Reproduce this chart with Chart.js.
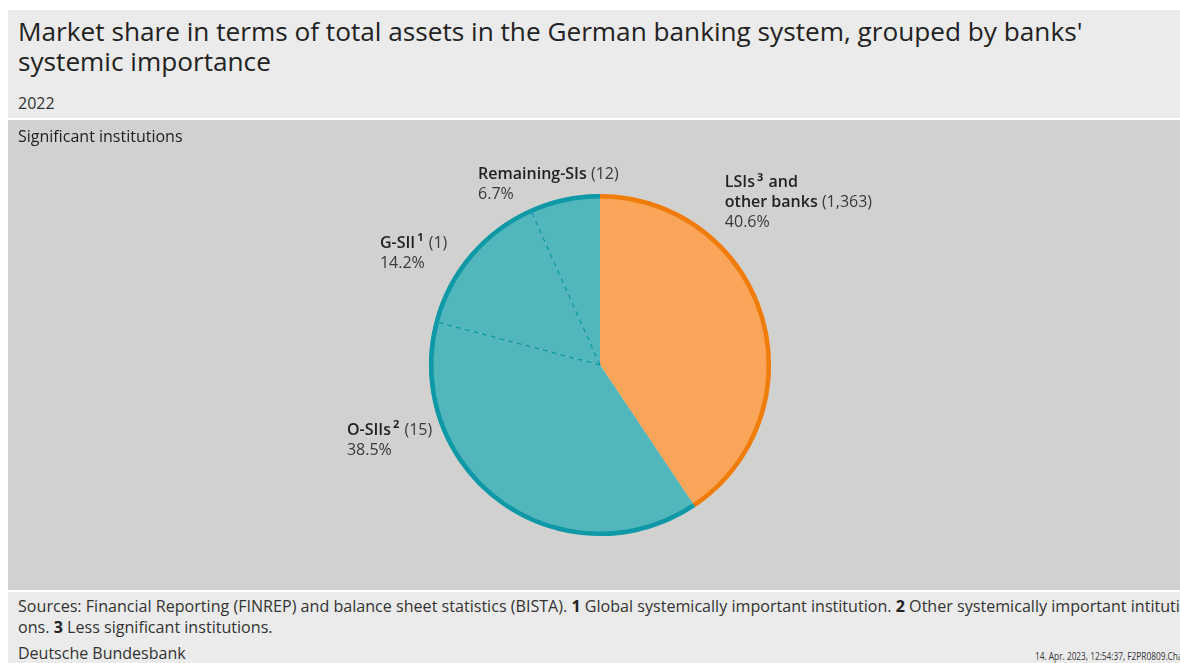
<!DOCTYPE html>
<html>
<head>
<meta charset="utf-8">
<script src="https://cdn.jsdelivr.net/npm/chart.js@4.4.0/dist/chart.umd.min.js"></script>
<style>
  html, body { margin: 0; padding: 0; background: #fff; }
  body { width: 1180px; height: 663px; overflow: hidden; position: relative;
         font-family: "Open Sans", "Noto Sans", sans-serif; color: #2a2a2a; }
  .frame { position: absolute; left: 8px; top: 10px; width: 1172px; height: 653px; background: #ebebeb; overflow: hidden; }
  .title { position: absolute; left: 10px; top: 6px; font-size: 26.2px; font-weight: 500; line-height: 30px; color: #222; white-space: nowrap; }
  .year { position: absolute; left: 10px; top: 82px; font-size: 16px; color: #333; }
  .panel { position: absolute; left: 0; top: 108px; width: 1172px; height: 470px; background: #d1d1d0;
           border-top: 2px solid #fff; border-bottom: 2px solid #fff; }
  .panel-head { position: absolute; left: 10px; top: 5px; font-size: 16px; font-weight: 500; color: #1e1e1e; }
  .panel canvas { position: absolute; left: 0; top: 0; }
  .notes { position: absolute; left: 10px; top: 586px; font-size: 16.1px; line-height: 21px; color: #333; white-space: nowrap; }
  .notes b { font-weight: 700; color: #222; }
  .src { position: absolute; left: 10px; top: 632px; font-size: 16px; color: #333; }
  .stamp { position: absolute; left: 1027px; top: 639px; font-size: 10px; color: #333; white-space: nowrap;
           transform: scaleX(0.83); transform-origin: left center; }
</style>
</head>
<body>
<div class="frame">
  <div class="title">Market share in terms of total assets in the German banking system, grouped by banks'<br>systemic importance</div>
  <div class="year">2022</div>
  <div class="panel">
    <canvas id="pieChart" width="1172" height="470"></canvas>
    <div class="panel-head">Significant institutions</div>
  </div>
  <div class="notes">Sources: Financial Reporting (FINREP) and balance sheet statistics (BISTA). <b>1</b> Global systemically important institution. <b>2</b> Other systemically important intituti<br>ons. <b>3</b> Less significant institutions.</div>
  <div class="src">Deutsche Bundesbank</div>
  <div class="stamp">14. Apr. 2023, 12:54:37, F2PR0809.Chart</div>
</div>
<script>
// Data
const categories = ["LSIs and other banks", "O-SIIs", "G-SII", "Remaining-SIs"];
const shares = [40.6, 38.5, 14.2, 6.7];
const counts = ["1,363", "15", "1", "12"];
const footnoteMarks = ["3", "2", "1", ""];
const groups = ["LSI", "SI", "SI", "SI"];

// Colours
const fillColors = { LSI: "#fba55a", SI: "#52b6bd" };
const edgeColors = { LSI: "#f07d0a", SI: "#0f99a6" };

// Label anchors, relative to the pie centre in units of the radius
const labelAnchors = [
  { dx: 0.73, dy: -1.065, lines: [[["LSIs", "b"], [footnoteMarks[0], "sup"], [" and", "b"]], [["other banks", "b"], [" (" + counts[0] + ")", "n"]], [[shares[0].toFixed(1) + "%", "n"]]] },
  { dx: -1.48, dy: 0.38, lines: [[["O-SIIs", "b"], [footnoteMarks[1], "sup"], [" (" + counts[1] + ")", "n"]], [[shares[1].toFixed(1) + "%", "n"]]] },
  { dx: -1.287, dy: -0.713, lines: [[["G-SII", "b"], [footnoteMarks[2], "sup"], [" (" + counts[2] + ")", "n"]], [[shares[2].toFixed(1) + "%", "n"]]] },
  { dx: -0.713, dy: -1.117, lines: [[["Remaining-SIs", "b"], [" (" + counts[3] + ")", "n"]], [[shares[3].toFixed(1) + "%", "n"]]] },
];

const fonts = {
  b: "600 16px 'Open Sans', sans-serif",
  n: "400 16px 'Open Sans', sans-serif",
  sup: "700 11px 'Open Sans', sans-serif",
};

// Outer rim, dashed dividers and labels
const piePlugin = {
  id: "pieDecor",
  afterDatasetsDraw(chart) {
    const ctx = chart.ctx;
    const arcs = chart.getDatasetMeta(0).data;
    ctx.save();
    arcs.forEach((arc, i) => {
      const g = groups[i];
      // dashed radial divider between slices of the same group
      if (i > 0 && groups[i - 1] === g) {
        ctx.beginPath();
        ctx.setLineDash([5, 4]);
        ctx.lineWidth = 1.3;
        ctx.strokeStyle = edgeColors[g];
        ctx.moveTo(arc.x, arc.y);
        ctx.lineTo(arc.x + Math.cos(arc.startAngle) * arc.outerRadius,
                   arc.y + Math.sin(arc.startAngle) * arc.outerRadius);
        ctx.stroke();
      }
    });
    ctx.setLineDash([]);
    arcs.forEach((arc, i) => {
      ctx.beginPath();
      ctx.lineWidth = 4.5;
      ctx.strokeStyle = edgeColors[groups[i]];
      ctx.arc(arc.x, arc.y, arc.outerRadius - 2.2, arc.startAngle, arc.endAngle);
      ctx.stroke();
    });
    // labels
    const r = arcs[0].outerRadius;
    const cx = arcs[0].x, cy = arcs[0].y;
    ctx.textBaseline = "middle";
    ctx.textAlign = "left";
    labelAnchors.forEach((lab) => {
      let y = cy + lab.dy * r;
      lab.lines.forEach((parts) => {
        let x = cx + lab.dx * r;
        parts.forEach(([txt, kind]) => {
          if (!txt) return;
          ctx.font = fonts[kind];
          ctx.fillStyle = kind === "n" ? "#3a3a3a" : "#222";
          if (kind === "sup") {
            x += 2;
            ctx.fillText(txt, x, y - 5);
            x += ctx.measureText(txt).width + 1;
          } else {
            ctx.fillText(txt, x, y);
            x += ctx.measureText(txt).width;
          }
        });
        y += 20;
      });
    });
    ctx.restore();
  },
};

const pieCtx = document.getElementById("pieChart").getContext("2d");
const pieChart = new Chart(pieCtx, {
  type: "pie",
  data: {
    labels: categories,
    datasets: [
      {
        data: shares,
        backgroundColor: groups.map((g) => fillColors[g]),
        borderWidth: 0,
      },
    ],
  },
  options: {
    responsive: false,
    animation: false,
    layout: { padding: { left: 12, right: 0, top: 74, bottom: 54 } },
    plugins: {
      legend: { display: false },
      tooltip: { enabled: false },
    },
  },
  plugins: [piePlugin],
});
</script>
</body>
</html>
